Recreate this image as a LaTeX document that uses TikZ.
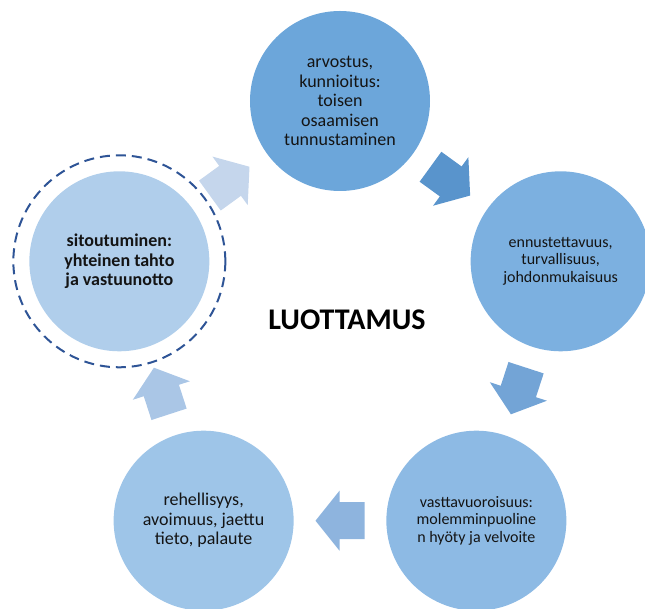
\documentclass[tikz,border=0pt]{standalone}
\usepackage{fontspec}
\setmainfont{Carlito}
\usepackage{tikz}
\usetikzlibrary{calc}
\definecolor{bubbleA}{RGB}{108,166,218}
\definecolor{bubbleB}{RGB}{124,176,224}
\definecolor{bubbleC}{RGB}{141,186,228}
\definecolor{bubbleD}{RGB}{158,197,232}
\definecolor{bubbleE}{RGB}{176,206,235}
\definecolor{arrowA}{RGB}{89,148,204}
\definecolor{arrowB}{RGB}{115,164,214}
\definecolor{arrowC}{RGB}{142,180,222}
\definecolor{arrowD}{RGB}{170,198,230}
\definecolor{arrowE}{RGB}{197,214,236}
\definecolor{ringblue}{RGB}{46,84,150}
\definecolor{inktext}{RGB}{20,20,20}
\tikzset{
  bubble/.style    = {circle,minimum size=180pt,inner sep=0pt,align=center,text=inktext,
                      font=\fontsize{18}{19.5}\selectfont},
  smalltext/.style = {font=\fontsize{16}{17.5}\selectfont},
  dashring/.style  = {draw=ringblue,line width=2pt,dash pattern=on 10pt off 6pt}
}
\newcommand{\cyclearrow}[4]{%
  \fill[#4,shift={($(#1)!0.5!(#2)$)},rotate=#3]
    (-24.5,-18.5) -- (0.5,-18.5) -- (0.5,-30) -- (24.5,0)
    -- (0.5,30) -- (0.5,18.5) -- (-24.5,18.5) -- cycle;
}

\begin{document}
\begin{tikzpicture}[x=1pt,y=1pt]
  \useasboundingbox (-340,-276) rectangle (305,333);
  % the five circles of the cycle
  \node[bubble,fill=bubbleA] (arvostus)    at (90:232)  {arvostus,\\kunnioitus:\\toisen\\osaamisen\\tunnustaminen};
  \node[bubble,smalltext,fill=bubbleB] (ennuste)     at (18:232)  {ennustettavuus,\\turvallisuus,\\johdonmukaisuus};
  \node[bubble,smalltext,fill=bubbleC] (vastavuoro)  at (-54:232) {vasttavuoroisuus:\\molemminpuoline\\n hyöty ja velvoite};
  \node[bubble,fill=bubbleD] (rehellisyys) at (234:232) {rehellisyys,\\avoimuus, jaettu\\tieto, palaute};
  \node[bubble,fill=bubbleE,font=\fontsize{18}{19.5}\selectfont\bfseries] (sitoutuminen) at (162:232)
    {sitoutuminen:\\yhteinen tahto\\ja vastuunotto};
  \draw[dashring] (sitoutuminen.center) circle[radius=106];
  \node[font=\fontsize{30}{34}\selectfont\bfseries,text=black] (luottamus) at (7,13) {LUOTTAMUS};
  % block arrows between the circles
  \cyclearrow{arvostus}{ennuste}{-36}{arrowA}
  \cyclearrow{ennuste}{vastavuoro}{-108}{arrowB}
  \cyclearrow{vastavuoro}{rehellisyys}{180}{arrowC}
  \cyclearrow{rehellisyys}{sitoutuminen}{108}{arrowD}
  \cyclearrow{sitoutuminen}{arvostus}{36}{arrowE}
\end{tikzpicture}
\end{document}
